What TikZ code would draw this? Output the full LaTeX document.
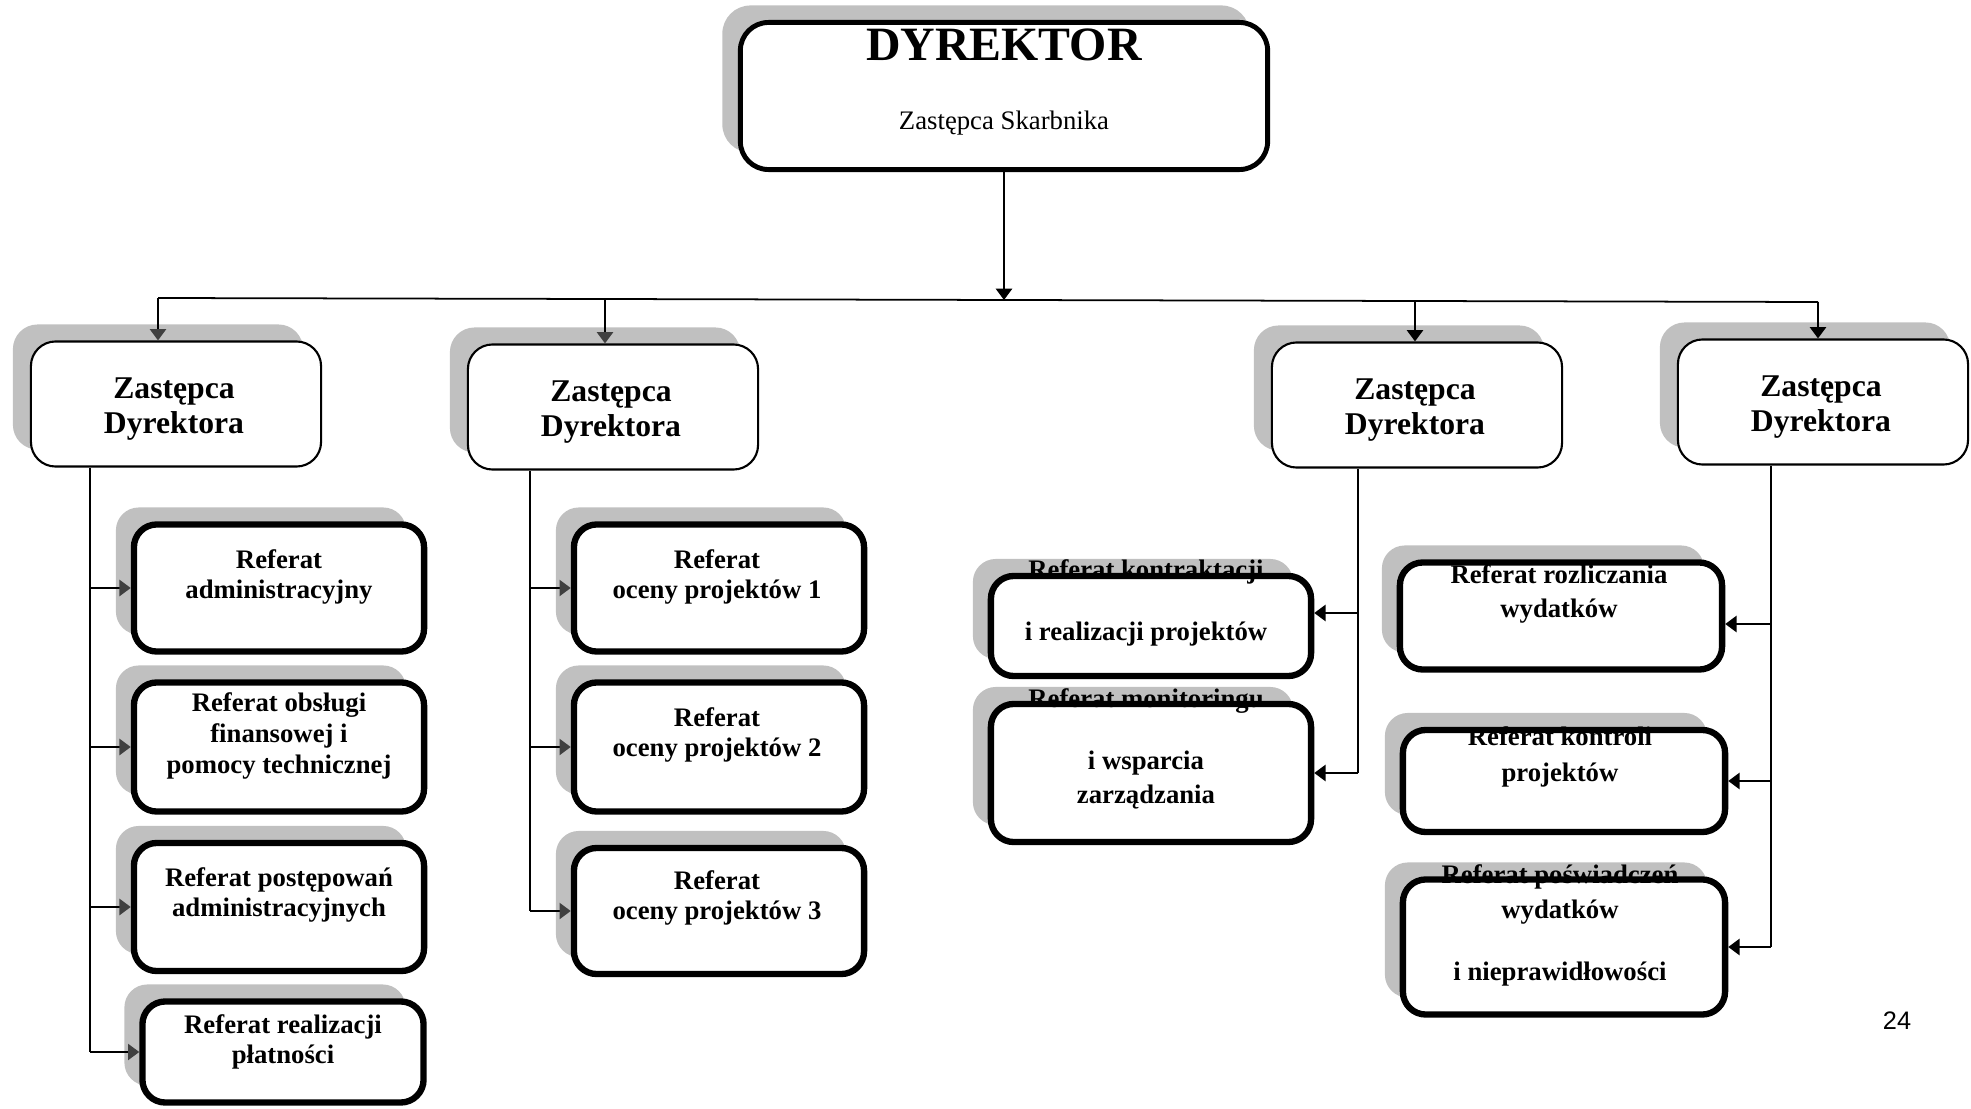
\documentclass[tikz,border=0pt]{standalone}
\usepackage{fontspec}
\setmainfont{Liberation Serif}
\newfontfamily\pagefont{Liberation Sans}
\usetikzlibrary{arrows.meta, shadows}
\definecolor{ShadowGray}{HTML}{C0C0C0}
\definecolor{TipGray}{HTML}{404040}

\begin{document}
\begin{tikzpicture}[x=0.01cm, y=-0.01cm,
    shade box/.style={general shadow={shadow xshift=-0.18cm, shadow yshift=0.17cm, fill=ShadowGray}},
    topbox/.style={shade box, draw, line width=1.4pt, fill=white, rounded corners=8pt,
                   minimum width=5.27cm, minimum height=1.47cm},
    deputy/.style={shade box, draw, line width=0.6pt, fill=white, rounded corners=7pt,
                   minimum width=2.9cm, minimum height=1.25cm, inner sep=0pt},
    deputytext/.style={font=\bfseries\fontsize{9}{10}\selectfont, align=center, inner sep=0pt},
    unit/.style={shade box, draw, line width=1.8pt, fill=white, rounded corners=6.5pt,
                 minimum width=2.9cm, inner sep=0pt},
    unittext/.style={font=\bfseries\fontsize{7.6}{8.7}\selectfont, align=center, inner sep=0pt},
    link/.style={line width=0.5pt},
    arr/.style={link, -{Triangle[length=3.2pt, width=4.6pt]}},
    garr/.style={link, -{Triangle[length=3.2pt, width=4.6pt, color=TipGray]}}]

  \useasboundingbox (0,0) rectangle (1971,1109);

  % top
  \node[topbox] (dyr) at (1004,96) {};
  \node[font=\bfseries\fontsize{13.6}{15}\selectfont, inner sep=0pt] (dyrt) at (1004,45) {DYREKTOR};
  \node[font=\fontsize{7.6}{9}\selectfont, inner sep=0pt] (dyrs) at (1004,123) {Zastępca Skarbnika};

  % deputies
  \node[deputy] (zd1) at (176,404)  {};
  \node[deputy] (zd2) at (613,407)  {};
  \node[deputy] (zd3) at (1417,405) {};
  \node[deputy] (zd4) at (1823,402) {};
  \node[deputytext] (zd1t) at (174,409)  {Zastępca\\Dyrektora};
  \node[deputytext] (zd2t) at (611,412)  {Zastępca\\Dyrektora};
  \node[deputytext] (zd3t) at (1415,410) {Zastępca\\Dyrektora};
  \node[deputytext] (zd4t) at (1821,407) {Zastępca\\Dyrektora};

  % first column
  \node[unit, minimum height=1.27cm] (ra1) at (279,588) {};
  \node[unit, minimum height=1.29cm] (ra2) at (279,747) {};
  \node[unit, minimum height=1.28cm] (ra3) at (279,907) {};
  \node[unit, minimum width=2.81cm, minimum height=1.01cm] (ra4) at (283,1052) {};
  \node[unittext] (ra1t) at (279,577)  {Referat\\administracyjny};
  \node[unittext] (ra2t) at (279,736)  {Referat obsługi\\finansowej i\\pomocy technicznej};
  \node[unittext] (ra3t) at (279,895)  {Referat postępowań\\administracyjnych};
  \node[unittext] (ra4t) at (283,1042) {Referat realizacji\\płatności};

  % second column
  \node[unit, minimum height=1.27cm] (rb1) at (719,588) {};
  \node[unit, minimum height=1.29cm] (rb2) at (719,747) {};
  \node[unit, minimum height=1.26cm] (rb3) at (719,911) {};
  \node[unittext] (rb1t) at (717,577) {Referat\\oceny projektów 1};
  \node[unittext] (rb2t) at (717,735) {Referat\\oceny projektów 2};
  \node[unittext] (rb3t) at (717,898) {Referat\\oceny projektów 3};

  % third column
  \node[unit, minimum width=3.2cm, minimum height=1.0cm]  (rc1) at (1151,626) {};
  \node[unit, minimum width=3.2cm, minimum height=1.38cm] (rc2) at (1151,773) {};
  \node[unittext] (rc1t) at (1146,603) {Referat kontraktacji\\[8.7pt]i realizacji projektów};
  \node[unittext] (rc2t) at (1146,749) {Referat monitoringu\\[8.7pt]i wsparcia\\[1pt]zarządzania};

  % fourth column
  \node[unit, minimum width=3.22cm, minimum height=1.07cm] (rd1) at (1561,616) {};
  \node[unit, minimum width=3.22cm, minimum height=1.02cm] (rd2) at (1564,781) {};
  \node[unit, minimum width=3.22cm, minimum height=1.35cm] (rd3) at (1564,947) {};
  \node[unittext] (rd1t) at (1559,594) {Referat rozliczania\\[1pt]wydatków};
  \node[unittext] (rd2t) at (1560,757) {Referat kontroli\\[1.5pt]projektów};
  \node[unittext] (rd3t) at (1560,925) {Referat poświadczeń\\[1.5pt]wydatków\\[8.7pt]i nieprawidłowości};

  \node[font=\pagefont\fontsize{7.2}{8}\selectfont] (pg) at (1897,1021) {24};

  % bus
  \coordinate (bus) at (1003,300);
  \coordinate (b1) at (158,298);
  \coordinate (b2) at (605,299);
  \coordinate (b3) at (1415,301);
  \coordinate (b4) at (1818,302);
  \draw[arr] (dyr.south) -- (dyr.south |- bus);
  \draw[link] (b1) -- (b2) -- (b3) -- (b4);
  \draw[garr] (b1) -- (b1 |- zd1.north);
  \draw[garr] (b2) -- (b2 |- zd2.north);
  \draw[arr]  (b3) -- (b3 |- zd3.north);
  \draw[arr]  (b4) -- (b4 |- zd4.north);

  % trunks
  \coordinate (t1) at (90,468);
  \coordinate (t2) at (530,471);
  \coordinate (t3) at (1358,469);
  \coordinate (t4) at (1771,466);
  \coordinate (rc1in) at ([yshift=0.13cm]rc1.east);
  \coordinate (rd1in) at ([yshift=-0.08cm]rd1.east);
  \draw[link] (t1) -- (t1 |- ra4.west);
  \foreach \u in {ra1,ra2,ra3,ra4}
    \draw[garr] (t1 |- \u.west) -- (\u.west);
  \draw[link] (t2) -- (t2 |- rb3.west);
  \foreach \u in {rb1,rb2,rb3}
    \draw[garr] (t2 |- \u.west) -- (\u.west);
  \draw[link] (t3) -- (t3 |- rc2.east);
  \draw[arr] (t3 |- rc1in) -- (rc1in);
  \draw[arr] (t3 |- rc2.east) -- (rc2.east);
  \draw[link] (t4) -- (t4 |- rd3.east);
  \draw[arr] (t4 |- rd1in) -- (rd1in);
  \draw[arr] (t4 |- rd2.east) -- (rd2.east);
  \draw[arr] (t4 |- rd3.east) -- (rd3.east);
\end{tikzpicture}
\end{document}
